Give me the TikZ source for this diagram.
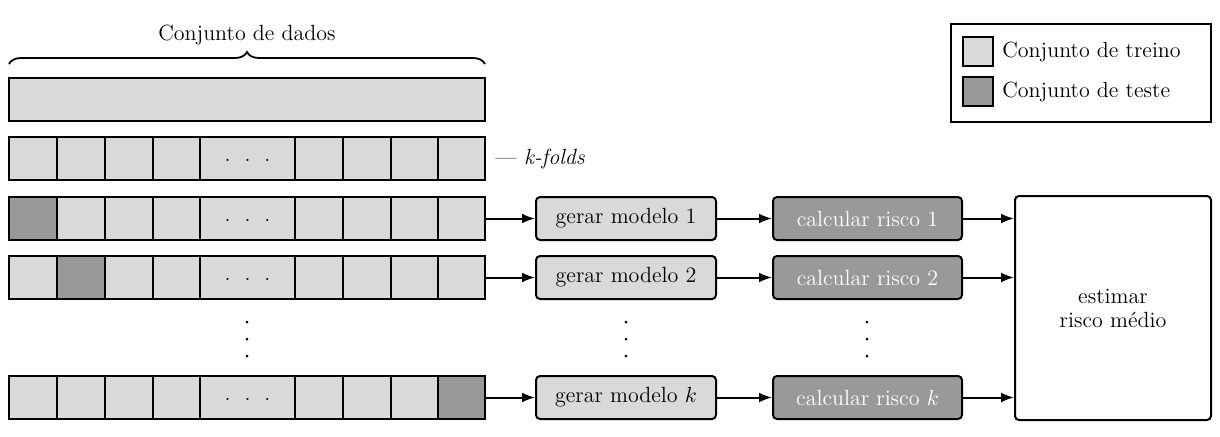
\documentclass[tikz,border=0pt]{standalone}
\usetikzlibrary{arrows.meta,decorations.pathreplacing}
\definecolor{lightg}{HTML}{D9D9D9}
\definecolor{darkg}{HTML}{999999}
\newcommand\foldrow[3]{%
  \foreach \i/\a/\b in {1/9/57,2/57/105,3/105/153,4/153/200,5/200/295,6/295/343,7/343/391,8/391/438,9/438/485}{
    \ifnum\i=#3 \def\fc{darkg}\else\def\fc{lightg}\fi
    \ifnum\i=5 \def\ct{\dotsrow}\else\def\ct{}\fi
    \node[cell, fill=\fc, minimum width={(\b-\a)*0.5pt}] (#1-\i) at ({(\a+\b)/2},#2) {\ct};
  }%
}
\newcommand\dotsrow{.\hspace{7pt}.\hspace{7pt}.}
\begin{document}
\begin{tikzpicture}[x=0.5pt,y=-0.5pt,
  font=\fontsize{11}{12}\selectfont,
  cell/.style={draw, line width=1pt, fill=lightg, minimum height=21.5pt, inner sep=0pt, text height=1.2ex, text depth=0.6ex},
  gbox/.style={draw, line width=1pt, rounded corners=2pt, fill=lightg, minimum width=90pt, minimum height=21.5pt, inner sep=0pt},
  cbox/.style={draw, line width=1pt, rounded corners=2pt, fill=darkg, text=white, minimum width=94.5pt, minimum height=21.5pt, inner sep=0pt},
  arr/.style={-{Latex[length=6.5pt,width=5pt]}, line width=1pt},
  swatch/.style={draw, line width=1pt, minimum width=15pt, minimum height=14.5pt, inner sep=0pt},
  vdot/.style={fill=black}
]
\useasboundingbox (0,0) rectangle (1220,436);

% data set
\node[cell, minimum width=238pt] (all) at (247,99.5) {};
\draw[line width=0.9pt, decorate, decoration={brace, amplitude=6pt}] (9,64) -- (485,64);
\node (title) at (247,35) {Conjunto de dados};

% rows
\foldrow{kf}{158.5}{0}
\node[anchor=west, inner sep=0pt] (kfl) at (495,159) {--- \textit{k-folds}};
\foldrow{ra}{218.5}{1}
\foldrow{rb}{277.5}{2}
\foldrow{rk}{397.5}{9}

% vertical dots
\foreach \x in {247,626,867}{
  \foreach \y in {322,339,356}{
    \fill[vdot] (\x,\y) circle (0.75pt);
  }
}

% model boxes
\node[gbox] (g1) at (626,218.5) {gerar modelo 1};
\node[gbox] (g2) at (626,277.5) {gerar modelo 2};
\node[gbox] (gk) at (626,397.5) {gerar modelo $k$};
\node[cbox] (c1) at (867.5,218.5) {calcular risco 1};
\node[cbox] (c2) at (867.5,277.5) {calcular risco 2};
\node[cbox] (ck) at (867.5,397.5) {calcular risco $k$};
\node[draw, line width=1pt, rounded corners=2pt, minimum width=98pt, minimum height=112pt, align=center] (est) at (1113,308) {estimar\\risco médio};

\draw[arr] (ra-9.east) -- (g1.west);
\draw[arr] (rb-9.east) -- (g2.west);
\draw[arr] (rk-9.east) -- (gk.west);
\draw[arr] (g1.east) -- (c1.west);
\draw[arr] (g2.east) -- (c2.west);
\draw[arr] (gk.east) -- (ck.west);
\draw[arr] (c1.east) -- (c1.east -| est.west);
\draw[arr] (c2.east) -- (c2.east -| est.west);
\draw[arr] (ck.east) -- (ck.east -| est.west);

% legend
\node[draw, line width=1pt, minimum width=130pt, minimum height=49pt] (leg) at (1081,73) {};
\node[swatch, fill=lightg] (s1) at (978,51.5) {};
\node[swatch, fill=darkg] (s2) at (978,91.5) {};
\node[anchor=west, inner sep=0pt] (l1) at (1002,52) {Conjunto de treino};
\node[anchor=west, inner sep=0pt] (l2) at (1002,92) {Conjunto de teste};
\end{tikzpicture}
\end{document}
